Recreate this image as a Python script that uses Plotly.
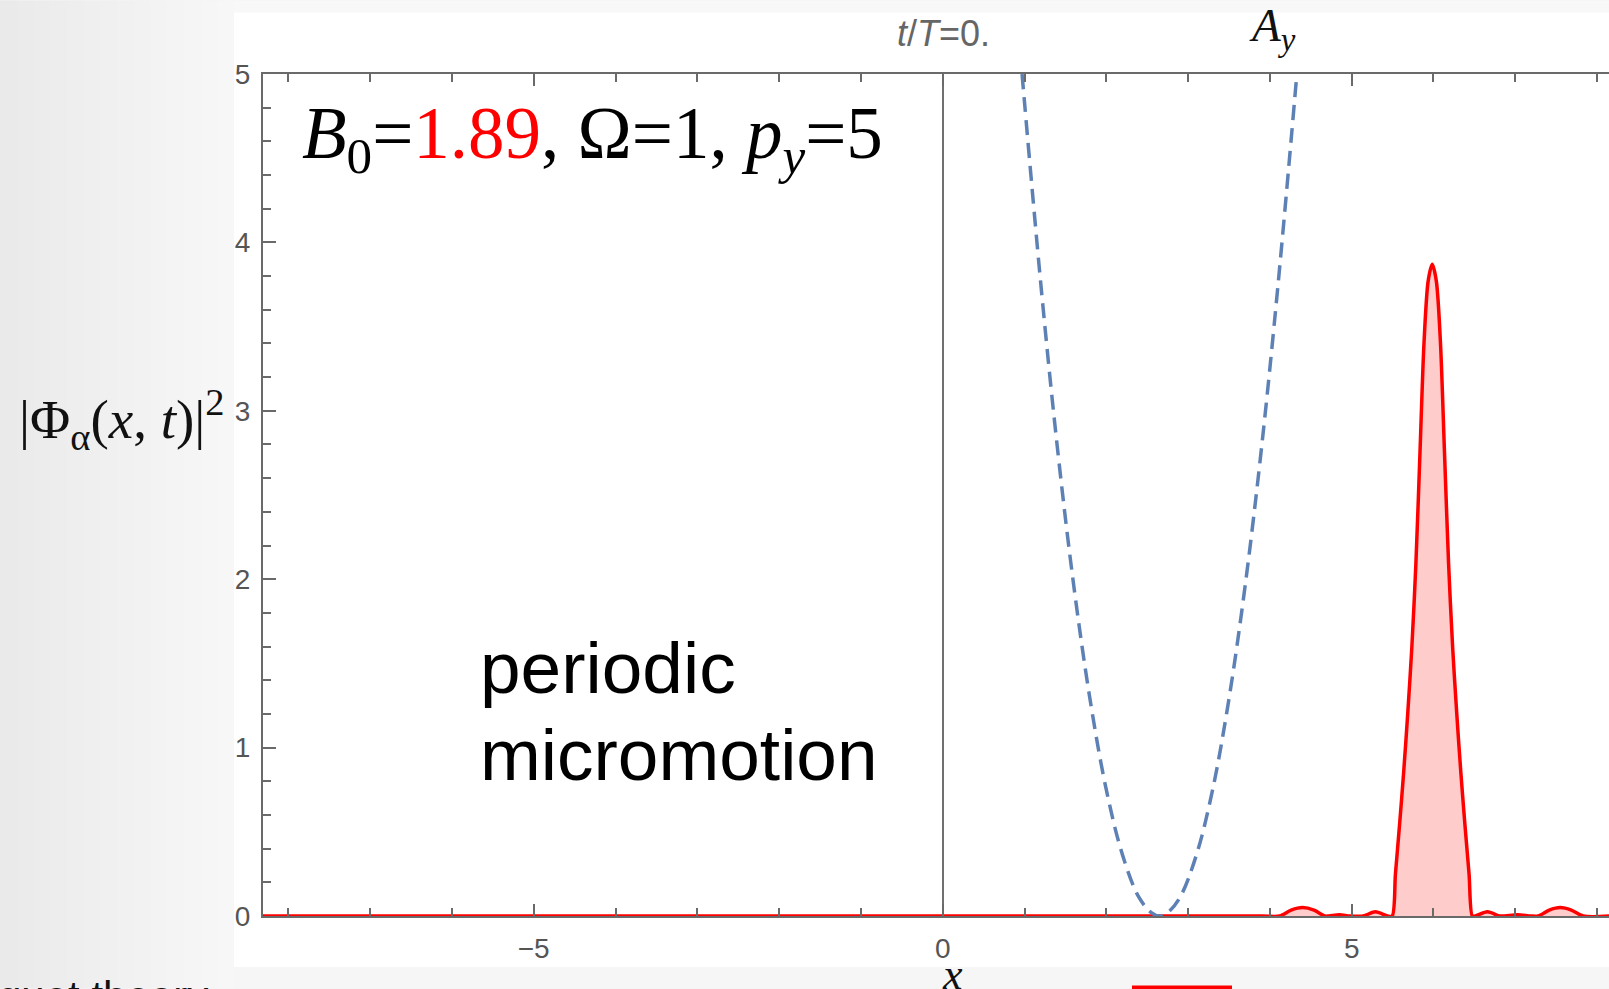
import plotly.graph_objects as go

# ---------------- data ----------------
red_x = [-8.31, -4.0, 0.0, 3.9, 4.12, 4.26, 4.40, 4.54, 4.67, 4.72, 4.85, 4.98,
         5.14, 5.29, 5.44, 5.495, 5.535, 5.585, 5.635, 5.685, 5.735, 5.785, 5.835,
         5.885, 5.935, 5.985, 6.035, 6.085, 6.135, 6.185, 6.235, 6.285, 6.335,
         6.385, 6.435, 6.475, 6.51, 6.66, 6.81, 6.87, 7.03, 7.19, 7.28, 7.415,
         7.55, 7.685, 7.83, 8.15]
red_y = [0, 0, 0, 0, 0, 0.035, 0.05, 0.035, 0, 0, 0.008, 0,
         0, 0.025, 0, 0, 0.25, 0.54, 0.85, 1.20, 1.59, 2.09, 2.75,
         3.41, 3.77, 3.87, 3.77, 3.41, 2.75, 2.09, 1.59, 1.20, 0.85,
         0.54, 0.25, 0, 0, 0.025, 0, 0, 0.008, 0, 0, 0.035,
         0.05, 0.035, 0, 0]

blue_x = [0.97, 1.2, 1.4, 1.6, 1.8, 2.0, 2.2, 2.4, 2.55, 2.65, 2.75, 2.9,
          3.1, 3.3, 3.5, 3.7, 3.9, 4.1, 4.33]
blue_y = [5.0, 3.75, 2.79, 1.97, 1.29, 0.75, 0.36, 0.11, 0.02, 0.0, 0.02, 0.11,
          0.36, 0.75, 1.29, 1.97, 2.79, 3.75, 5.0]

x_major = [-5, 0, 5]
x_major_text = ["\u22125", "0", "5"]
x_minor = [-8, -7, -6, -4, -3, -2, -1, 1, 2, 3, 4, 6, 7, 8]
y_major = [0, 1, 2, 3, 4, 5]
y_major_text = ["0", "1", "2", "3", "4", "5"]

# ---------------- layout geometry (pixels) ----------------
W, H = 1609, 989
L, R = 263, 1609
T, B = 73.5, 916.5
X_RANGE = [-8.31, 8.146]
Y_RANGE = [0, 5]


def px(xp):
    return (xp - L) / (R - L)


def py(yp):
    return (B - yp) / (B - T)


AXIS = "#6a6a6a"
TICKFONT = dict(family="Liberation Sans, Arial", size=28, color="#555555")
SERIF = "Liberation Serif, Times New Roman, serif"
SANS = "Liberation Sans, Arial, sans-serif"

fig = go.Figure()

fig.add_trace(go.Scatter(
    x=red_x, y=red_y, mode="lines", line=dict(color="#ff0000", width=3.5, shape="spline", smoothing=0.8),
    fill="tozeroy", fillcolor="rgba(255,0,0,0.2)", hoverinfo="skip", showlegend=False))

fig.add_trace(go.Scatter(
    x=blue_x, y=blue_y, mode="lines",
    line=dict(color="#5e81b5", width=3.5, dash="15px,8px", shape="spline", smoothing=1.0),
    hoverinfo="skip", showlegend=False))

shapes = []
# slide background gradient (left strip)
n = 14
for i in range(n):
    c = int(234 + (247 - 234) * i / (n - 1))
    shapes.append(dict(type="rect", xref="paper", yref="paper", layer="below",
                       x0=px(234 * i / n), x1=px(234 * (i + 1) / n + 1), y0=py(H), y1=py(0),
                       fillcolor=f"rgb({c},{c},{c})", line=dict(width=0)))
# bottom strip
shapes.append(dict(type="rect", xref="paper", yref="paper", layer="below",
                   x0=px(234), x1=px(W), y0=py(H), y1=py(967.5),
                   fillcolor="#f6f6f6", line=dict(width=0)))
# top strip
shapes.append(dict(type="rect", xref="paper", yref="paper", layer="below",
                   x0=px(234), x1=px(W), y0=py(12), y1=py(0),
                   fillcolor="#f8f8f8", line=dict(width=0)))
# white figure image region
shapes.append(dict(type="rect", xref="paper", yref="paper", layer="below",
                   x0=px(234), x1=px(W), y0=py(967.5), y1=py(12),
                   fillcolor="#ffffff", line=dict(width=0)))
# red bar at the very bottom
shapes.append(dict(type="rect", xref="paper", yref="paper", layer="above",
                   x0=px(1132), x1=px(1232), y0=py(990), y1=py(986),
                   fillcolor="#ff0000", line=dict(width=0)))

annotations = [
    dict(text="<i>t</i>/<i>T</i>=0.", x=px(943), y=py(33), xref="paper", yref="paper",
         showarrow=False, xanchor="center", yanchor="middle",
         font=dict(family="Liberation Sans, Arial", size=36, color="#666666")),
    dict(text="<i>A</i><sub><i>y</i></sub>", x=px(1272), y=py(28), xref="paper", yref="paper",
         showarrow=False, xanchor="center", yanchor="middle",
         font=dict(family=SERIF, size=47, color="#111111")),
    dict(text="<i>B</i><sub>0</sub>=<span style='color:#ff0000'>1.89</span>, \u03a9=1, <i>p</i><sub><i>y</i></sub>=5",
         x=px(300), y=py(138), xref="paper", yref="paper",
         showarrow=False, xanchor="left", yanchor="middle",
         font=dict(family=SERIF, size=73, color="#000000")),
    dict(text="periodic", x=px(478), y=py(668), xref="paper", yref="paper",
         showarrow=False, xanchor="left", yanchor="middle",
         font=dict(family=SANS, size=73, color="#000000")),
    dict(text="micromotion", x=px(478), y=py(755), xref="paper", yref="paper",
         showarrow=False, xanchor="left", yanchor="middle",
         font=dict(family=SANS, size=73, color="#000000")),
    dict(text="|\u03a6<sub>\u03b1</sub>(<i>x</i>, <i>t</i>)|<sup>2</sup>", x=px(122), y=py(419),
         xref="paper", yref="paper", showarrow=False, xanchor="center", yanchor="middle",
         font=dict(family=SERIF, size=55, color="#111111")),
    dict(text="<i>x</i>", x=px(952), y=py(975), xref="paper", yref="paper",
         showarrow=False, xanchor="center", yanchor="middle",
         font=dict(family=SERIF, size=44, color="#111111")),
    dict(text="quet theory", x=px(-4), y=py(972), xref="paper", yref="paper",
         showarrow=False, xanchor="left", yanchor="top",
         font=dict(family=SANS, size=42, color="#111111")),
]

fig.update_layout(
    width=W, height=H,
    margin=dict(l=L, r=W - R, t=T, b=H - B, autoexpand=False),
    paper_bgcolor="#f4f4f4", plot_bgcolor="rgba(0,0,0,0)",
    shapes=shapes, annotations=annotations, showlegend=False,
)

fig.update_xaxes(
    range=X_RANGE, showgrid=False, zeroline=True, zerolinecolor="#707070", zerolinewidth=1.5,
    showline=True, linecolor=AXIS, linewidth=2, mirror="ticks",
    ticks="inside", ticklen=12, tickwidth=1.5, tickcolor=AXIS,
    tickmode="array", tickvals=x_major, ticktext=x_major_text, tickfont=TICKFONT,
    ticklabelstandoff=6,
    minor=dict(tickmode="array", tickvals=x_minor, ticks="inside", ticklen=8, tickwidth=1.5, tickcolor=AXIS),
    fixedrange=True,
)
fig.update_yaxes(
    range=Y_RANGE, showgrid=False, zeroline=False,
    showline=True, linecolor=AXIS, linewidth=2, mirror=False,
    ticks="inside", ticklen=13, tickwidth=1.5, tickcolor=AXIS,
    tickmode="array", tickvals=y_major, ticktext=y_major_text, tickfont=TICKFONT,
    ticklabelstandoff=5,
    minor=dict(dtick=0.2, ticks="inside", ticklen=8, tickwidth=1.5, tickcolor=AXIS),
    fixedrange=True,
)

fig.write_html("out.html")
